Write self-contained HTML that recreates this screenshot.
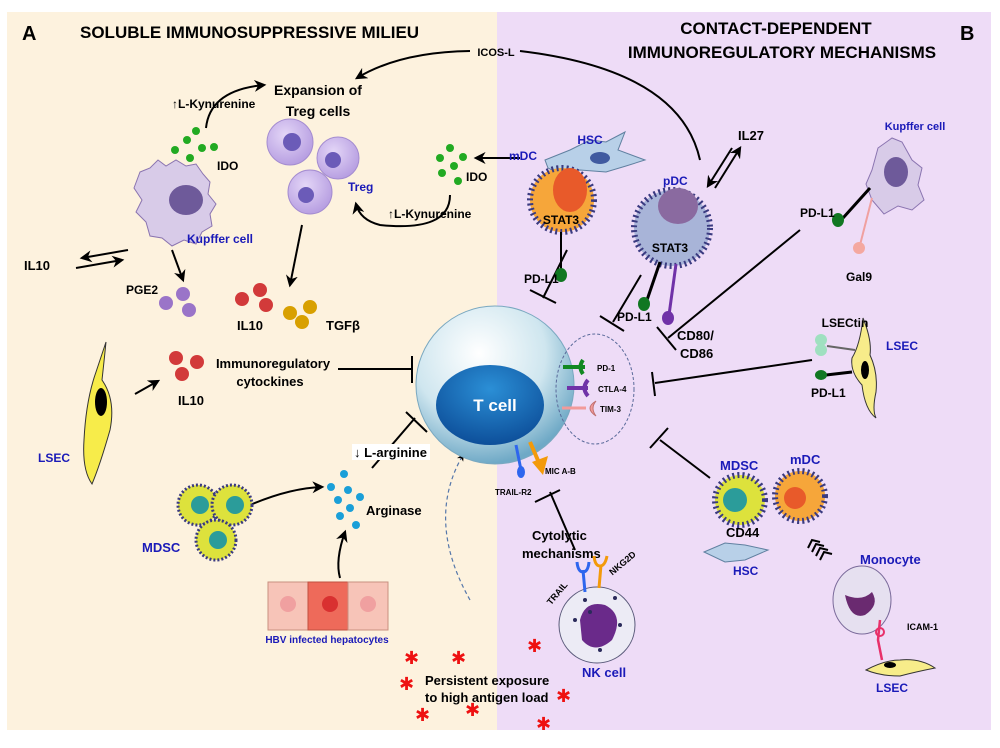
<!DOCTYPE html>
<html><head><meta charset="utf-8"><style>
html,body{margin:0;padding:0;background:#fff;}
svg{display:block;font-family:"Liberation Sans Narrow","Liberation Sans",sans-serif;font-weight:bold;}
.b{fill:#1a1ab8}
</style></head><body>
<svg width="1000" height="748" viewBox="0 0 1000 748" xmlns="http://www.w3.org/2000/svg">
<defs>
<marker id="ar" viewBox="0 0 10 10" refX="8" refY="5" markerWidth="6" markerHeight="6" orient="auto"><path d="M0,0 L10,5 L0,10 L3,5z" fill="#000"/></marker>
<radialGradient id="tc" cx="0.4" cy="0.3" r="0.7"><stop offset="0" stop-color="#ffffff"/><stop offset="0.6" stop-color="#cfe6ef"/><stop offset="1" stop-color="#6fa9c6"/></radialGradient>
<radialGradient id="tn" cx="0.5" cy="0.3" r="0.7"><stop offset="0" stop-color="#2b8fd6"/><stop offset="1" stop-color="#0d4f9a"/></radialGradient>
<radialGradient id="tr" cx="0.4" cy="0.35" r="0.7"><stop offset="0" stop-color="#e4d6f7"/><stop offset="1" stop-color="#b49be0"/></radialGradient>
</defs>
<rect x="7" y="12" width="490" height="718" fill="#fdf2de"/>
<rect x="497" y="12" width="494" height="718" fill="#eedcf7"/>

<text x="22" y="40" font-size="20">A</text>
<text x="80" y="38" font-size="17">SOLUBLE IMMUNOSUPPRESSIVE MILIEU</text>
<text x="776" y="34" font-size="17" text-anchor="middle">CONTACT-DEPENDENT</text>
<text x="782" y="58" font-size="17" text-anchor="middle">IMMUNOREGULATORY MECHANISMS</text>
<text x="960" y="40" font-size="20">B</text>

<text x="496" y="56" font-size="11" text-anchor="middle">ICOS-L</text>
<path d="M470,51 Q400,52 357,78" fill="none" stroke="#000" stroke-width="2" marker-end="url(#ar)"/>
<path d="M520,51 Q680,70 700,160" fill="none" stroke="#000" stroke-width="2"/>

<text x="318" y="95" font-size="14" text-anchor="middle">Expansion  of</text>
<text x="318" y="116" font-size="14" text-anchor="middle">Treg cells</text>
<circle cx="290" cy="142" r="23" fill="url(#tr)" stroke="#a48cd0"/><circle cx="292" cy="142" r="9" fill="#6b5bb8"/>
<circle cx="338" cy="158" r="21" fill="url(#tr)" stroke="#a48cd0"/><circle cx="333" cy="160" r="8" fill="#6b5bb8"/>
<circle cx="310" cy="192" r="22" fill="url(#tr)" stroke="#a48cd0"/><circle cx="306" cy="195" r="8" fill="#6b5bb8"/>
<text x="348" y="191" font-size="12" class="b">Treg</text>

<text x="172" y="108" font-size="12">↑L-Kynurenine</text>
<path d="M206,128 Q210,90 264,85" fill="none" stroke="#000" stroke-width="2" marker-end="url(#ar)"/>
<g fill="#22aa22"><circle cx="196" cy="131" r="4"/><circle cx="187" cy="140" r="4"/><circle cx="202" cy="148" r="4"/><circle cx="214" cy="147" r="4"/><circle cx="175" cy="150" r="4"/><circle cx="190" cy="158" r="4"/></g>
<text x="217" y="170" font-size="12">IDO</text>
<path d="M140,172 L150,168 L158,160 L166,166 L176,160 L186,166 L196,164 L203,174 L210,182 L208,194 L216,204 L210,214 L212,226 L202,232 L196,244 L184,240 L172,246 L162,238 L150,236 L146,222 L136,212 L142,200 L134,188z" fill="#d8cbe8" stroke="#8a74b0"/>
<ellipse cx="186" cy="200" rx="17" ry="15" fill="#6e5a9a"/>
<text x="187" y="243" font-size="12" class="b">Kupffer cell</text>
<text x="24" y="270" font-size="13">IL10</text>
<path d="M128,250 L82,258" stroke="#000" stroke-width="2" marker-end="url(#ar)"/>
<path d="M76,268 L122,260" stroke="#000" stroke-width="2" marker-end="url(#ar)"/>
<path d="M172,250 L183,280" stroke="#000" stroke-width="2" marker-end="url(#ar)"/>
<text x="126" y="294" font-size="12">PGE2</text>
<g fill="#9a74c8"><circle cx="166" cy="303" r="7"/><circle cx="183" cy="294" r="7"/><circle cx="189" cy="310" r="7"/></g>
<path d="M302,225 L290,285" stroke="#000" stroke-width="2" marker-end="url(#ar)"/>
<g fill="#d23a3a"><circle cx="242" cy="299" r="7"/><circle cx="260" cy="290" r="7"/><circle cx="266" cy="305" r="7"/></g>
<g fill="#d8a000"><circle cx="290" cy="313" r="7"/><circle cx="310" cy="307" r="7"/><circle cx="302" cy="322" r="7"/></g>
<text x="237" y="330" font-size="13">IL10</text>
<text x="326" y="330" font-size="13">TGFβ</text>

<g fill="#22aa22"><circle cx="450" cy="148" r="4"/><circle cx="440" cy="158" r="4"/><circle cx="463" cy="157" r="4"/><circle cx="454" cy="166" r="4"/><circle cx="442" cy="173" r="4"/><circle cx="458" cy="181" r="4"/></g>
<text x="466" y="181" font-size="12">IDO</text>
<path d="M520,158 L476,158" stroke="#000" stroke-width="2" marker-end="url(#ar)"/>
<path d="M450,195 Q450,232 380,225 Q360,220 356,204" fill="none" stroke="#000" stroke-width="2" marker-end="url(#ar)"/>
<text x="388" y="218" font-size="12">↑L-Kynurenine</text>

<path d="M106,342 Q104,362 102,380 Q116,400 110,430 Q100,465 92,484 Q82,470 84,440 Q86,400 96,372z" fill="#f7ec4a" stroke="#333"/>
<ellipse cx="101" cy="402" rx="6" ry="14" fill="#000"/>
<text x="38" y="462" font-size="12" class="b">LSEC</text>
<path d="M135,394 L158,381" stroke="#000" stroke-width="2" marker-end="url(#ar)"/>
<g fill="#d23a3a"><circle cx="176" cy="358" r="7"/><circle cx="197" cy="362" r="7"/><circle cx="182" cy="374" r="7"/></g>
<text x="178" y="405" font-size="13">IL10</text>
<text x="273" y="368" font-size="13" text-anchor="middle">Immunoregulatory</text>
<text x="270" y="386" font-size="13" text-anchor="middle">cytockines</text>
<path d="M338,369 L412,369 M412,356 L412,383" stroke="#000" stroke-width="2"/>

<path d="M372,468 L415,418 M406,412 L427,432" stroke="#000" stroke-width="2"/>
<rect x="352" y="444" width="78" height="16" fill="#fff"/>
<text x="354" y="457" font-size="13">↓ L-arginine</text>
<g fill="#1a9fd8"><circle cx="344" cy="474" r="4"/><circle cx="331" cy="487" r="4"/><circle cx="348" cy="490" r="4"/><circle cx="338" cy="500" r="4"/><circle cx="360" cy="497" r="4"/><circle cx="350" cy="508" r="4"/><circle cx="340" cy="516" r="4"/><circle cx="356" cy="525" r="4"/></g>
<text x="366" y="515" font-size="13">Arginase</text>
<path d="M250,505 Q290,488 322,487" fill="none" stroke="#000" stroke-width="2" marker-end="url(#ar)"/>
<path d="M340,578 Q335,560 345,532" fill="none" stroke="#000" stroke-width="2" marker-end="url(#ar)"/>

<g stroke="#3a3a80" stroke-width="3" stroke-dasharray="2,2">
<circle cx="198" cy="505" r="20" fill="#dde23c"/>
<circle cx="232" cy="505" r="20" fill="#dde23c"/>
<circle cx="216" cy="540" r="20" fill="#dde23c"/>
</g>
<circle cx="200" cy="505" r="9" fill="#2b9c9a"/><circle cx="235" cy="505" r="9" fill="#2b9c9a"/><circle cx="218" cy="540" r="9" fill="#2b9c9a"/>
<text x="142" y="552" font-size="13" class="b">MDSC</text>

<rect x="268" y="582" width="40" height="48" fill="#f7c4b8" stroke="#c89080"/>
<rect x="308" y="582" width="40" height="48" fill="#ee6a5a" stroke="#c05040"/>
<rect x="348" y="582" width="40" height="48" fill="#f7c4b8" stroke="#c89080"/>
<circle cx="288" cy="604" r="8" fill="#f0a0a0"/><circle cx="330" cy="604" r="8" fill="#d93030"/><circle cx="368" cy="604" r="8" fill="#f0a0a0"/>
<text x="327" y="643" font-size="10" text-anchor="middle" class="b">HBV infected hepatocytes</text>

<path d="M470,600 Q425,520 463,455" fill="none" stroke="#5577aa" stroke-width="1.2" stroke-dasharray="4,3" marker-end="url(#ar)"/>
<g fill="#ee1111" font-size="18" font-family="DejaVu Sans">
<text x="404" y="664">✱</text><text x="451" y="664">✱</text><text x="527" y="652">✱</text>
<text x="399" y="690">✱</text><text x="556" y="702">✱</text>
<text x="415" y="721">✱</text><text x="465" y="716">✱</text><text x="536" y="730">✱</text>
</g>
<text x="425" y="685" font-size="13">Persistent exposure</text>
<text x="425" y="702" font-size="13">to high antigen load</text>

<circle cx="495" cy="385" r="79" fill="url(#tc)" stroke="#7aa8c0"/>
<ellipse cx="490" cy="405" rx="54" ry="40" fill="url(#tn)"/>
<text x="495" y="411" font-size="17" fill="#fff" text-anchor="middle">T cell</text>
<ellipse cx="595" cy="389" rx="39" ry="55" fill="none" stroke="#5a6a9a" stroke-dasharray="3,2"/>
<path d="M563,367 L585,367 M583,360 Q578,367 583,374" stroke="#118822" stroke-width="4" fill="none"/>
<text x="597" y="371" font-size="8">PD-1</text>
<path d="M567,388 L588,388 M588,380 Q581,388 588,396" stroke="#7032a8" stroke-width="4" fill="none"/>
<text x="598" y="392" font-size="8">CTLA-4</text>
<path d="M562,408 L586,408" stroke="#f29a9a" stroke-width="3"/>
<path d="M596,401 Q584,408 596,416 Q590,408 596,401z" fill="#f29a9a" stroke="#c07070"/>
<text x="600" y="412" font-size="8">TIM-3</text>
<path d="M516,445 L521,470" stroke="#2e66ee" stroke-width="3"/><ellipse cx="521" cy="472" rx="4" ry="6" fill="#2e66ee"/>
<path d="M530,442 L540,465" stroke="#f39a0a" stroke-width="4"/><path d="M532,462 L548,456 L543,475z" fill="#f39a0a"/>
<text x="545" y="474" font-size="8">MIC A-B</text>
<text x="495" y="495" font-size="8">TRAIL-R2</text>

<g stroke="#000" stroke-width="2">
<path d="M567,250 L543,298 M530,290 L556,303"/>
<path d="M641,275 L613,322 M600,316 L624,331"/>
<path d="M800,230 L668,338 M657,327 L676,350"/>
<path d="M812,360 L655,383 M652,372 L655,396"/>
<path d="M710,478 L660,440 M650,448 L668,428"/>
<path d="M575,550 L550,492 M535,502 L560,490"/>
</g>

<path d="M545,160 L570,150 L590,140 L606,142 L625,132 L618,150 L645,160 L626,166 L606,172 L580,170 L560,174 L548,168z" fill="#b8d0e8" stroke="#6080a0"/>
<ellipse cx="600" cy="158" rx="10" ry="6" fill="#405aa0"/>
<text x="590" y="144" font-size="12" class="b" text-anchor="middle">HSC</text>
<circle cx="562" cy="200" r="32" fill="#f6a63a" stroke="#3a3a80" stroke-dasharray="2,3" stroke-width="6"/>
<ellipse cx="570" cy="190" rx="17" ry="22" fill="#e85a2a"/>
<text x="561" y="224" font-size="12" text-anchor="middle">STAT3</text>
<text x="509" y="160" font-size="12" class="b">mDC</text>
<path d="M561,232 L561,270" stroke="#000" stroke-width="2"/><ellipse cx="561" cy="275" rx="6" ry="7" fill="#117722"/>
<text x="524" y="283" font-size="12">PD-L1</text>
<circle cx="672" cy="228" r="38" fill="#a8b4d8" stroke="#3a3a80" stroke-dasharray="2,3" stroke-width="6"/>
<ellipse cx="678" cy="206" rx="20" ry="18" fill="#8a6aa0"/>
<text x="670" y="252" font-size="12" text-anchor="middle">STAT3</text>
<text x="663" y="185" font-size="12" class="b">pDC</text>
<path d="M715,188 L740,148" stroke="#000" stroke-width="2" marker-end="url(#ar)"/>
<path d="M732,148 L708,186" stroke="#000" stroke-width="2" marker-end="url(#ar)"/>
<text x="738" y="140" font-size="13">IL27</text>
<path d="M660,262 L647,300" stroke="#000" stroke-width="3"/><ellipse cx="644" cy="304" rx="6" ry="7" fill="#117722"/>
<text x="617" y="321" font-size="12">PD-L1</text>
<path d="M676,264 L669,315" stroke="#7032a8" stroke-width="3"/><ellipse cx="668" cy="318" rx="6" ry="7" fill="#7032a8"/>
<text x="677" y="340" font-size="13">CD80/</text>
<text x="680" y="358" font-size="13">CD86</text>

<text x="915" y="130" font-size="11" class="b" text-anchor="middle">Kupffer cell</text>
<path d="M878,148 L892,138 L902,142 L912,160 L922,168 L918,185 L924,200 L912,210 L898,206 L884,214 L872,200 L866,184 L872,170z" fill="#d8cbe8" stroke="#8a74b0"/>
<ellipse cx="896" cy="172" rx="12" ry="15" fill="#6e5a9a"/>
<path d="M870,188 L843,218" stroke="#000" stroke-width="3"/><ellipse cx="838" cy="220" rx="6" ry="7" fill="#117722"/>
<text x="800" y="217" font-size="12">PD-L1</text>
<path d="M872,198 L860,245" stroke="#f0a0a0" stroke-width="2"/><circle cx="859" cy="248" r="6" fill="#f4a8a0"/>
<text x="846" y="281" font-size="12">Gal9</text>

<path d="M863,318 Q872,340 870,355 Q878,372 876,392 Q872,410 876,418 Q865,410 862,385 Q850,372 852,358 Q860,345 863,318z" fill="#f7ec8a" stroke="#333"/>
<ellipse cx="865" cy="370" rx="4" ry="9" fill="#000"/>
<text x="845" y="327" font-size="12" text-anchor="middle">LSECtin</text>
<circle cx="821" cy="340" r="6" fill="#9fe0c0"/><circle cx="821" cy="350" r="6" fill="#9fe0c0"/>
<path d="M827,346 L855,350" stroke="#666" stroke-width="2"/>
<path d="M826,375 L852,372" stroke="#000" stroke-width="3"/><ellipse cx="821" cy="375" rx="6" ry="5" fill="#117722"/>
<text x="811" y="397" font-size="12">PD-L1</text>
<text x="886" y="350" font-size="12" class="b">LSEC</text>

<text x="720" y="470" font-size="13" class="b">MDSC</text>
<text x="790" y="464" font-size="13" class="b">mDC</text>
<circle cx="740" cy="500" r="25" fill="#dde23c" stroke="#3a3a80" stroke-dasharray="2,3" stroke-width="6"/>
<circle cx="735" cy="500" r="12" fill="#2b9c9a"/>
<circle cx="800" cy="496" r="25" fill="#f6a63a" stroke="#3a3a80" stroke-dasharray="2,3" stroke-width="6"/>
<circle cx="795" cy="498" r="11" fill="#e85a2a"/>
<text x="726" y="537" font-size="13">CD44</text>
<path d="M704,552 L725,543 L745,545 L768,550 L745,560 L725,562z" fill="#b8d0e8" stroke="#6080a0"/>
<text x="733" y="575" font-size="12" class="b">HSC</text>
<text x="860" y="564" font-size="13" class="b">Monocyte</text>
<g fill="none" stroke="#000" stroke-width="2"><path d="M808,548 L812,540 L820,542"/><path d="M812,552 L816,544 L824,546"/><path d="M816,556 L820,548 L828,550"/><path d="M820,560 L824,552 L832,554"/></g>
<ellipse cx="862" cy="600" rx="29" ry="34" fill="#e6e0f0" stroke="#7a6a9a"/>
<path d="M845,595 Q850,620 865,615 Q880,605 872,592 Q862,602 845,595z" fill="#6a2a70"/>
<path d="M880,620 L878,640 L882,660" stroke="#e8306a" stroke-width="2.5" fill="none"/><circle cx="880" cy="632" r="4" fill="none" stroke="#e8306a" stroke-width="2"/>
<text x="907" y="630" font-size="9">ICAM-1</text>
<path d="M866,670 Q885,660 900,660 Q920,658 935,668 Q915,672 900,676 Q880,676 866,670z" fill="#f7ec8a" stroke="#333"/>
<ellipse cx="890" cy="665" rx="6" ry="3" fill="#000"/>
<text x="876" y="692" font-size="12" class="b">LSEC</text>

<text x="532" y="540" font-size="13">Cytolytic</text>
<text x="522" y="558" font-size="13">mechanisms</text>
<circle cx="597" cy="625" r="38" fill="#ecebf5" stroke="#5a5a7a"/>
<path d="M580,620 Q585,600 605,605 Q625,615 612,640 Q595,655 582,640z" fill="#6a2a8a"/>
<g fill="#2a2a5a"><circle cx="585" cy="600" r="2"/><circle cx="615" cy="598" r="2"/><circle cx="575" cy="620" r="2"/><circle cx="620" cy="625" r="2"/><circle cx="600" cy="650" r="2"/><circle cx="590" cy="612" r="2"/></g>
<path d="M585,592 L583,570 M577,562 Q578,572 583,572 Q588,572 589,562" stroke="#2e66ee" stroke-width="3" fill="none"/>
<path d="M599,588 L601,565 M594,556 Q595,566 600,566 Q605,566 607,556" stroke="#f39a0a" stroke-width="3" fill="none"/>
<text x="548" y="605" font-size="9" transform="rotate(-50 550 602)">TRAIL</text>
<text x="610" y="575" font-size="9" transform="rotate(-40 612 572)">NKG2D</text>
<text x="582" y="677" font-size="13" class="b">NK cell</text>
</svg>
</body></html>
